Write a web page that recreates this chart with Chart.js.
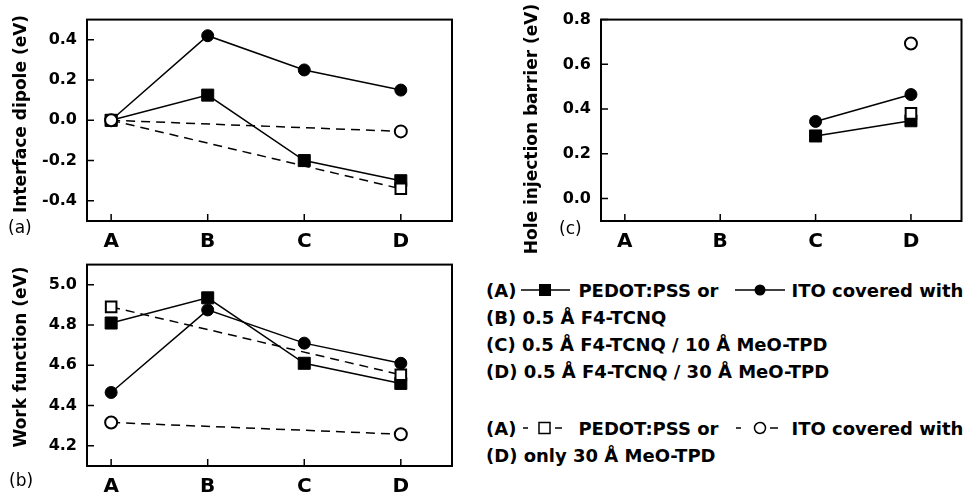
<!DOCTYPE html>
<html>
<head>
<meta charset="utf-8">
<script src="https://cdn.jsdelivr.net/npm/chart.js@4"></script>
<style>
  body { margin: 0; background: #fff; }
  #wrap { position: relative; width: 971px; height: 497px; overflow: hidden; font-family: 'DejaVu Sans', sans-serif; color: #000; }
  canvas { position: absolute; }
  .tag { position: absolute; font-size: 17px; line-height: 20px; }
  #legend { position: absolute; left: 486px; top: 277px; font-size: 18px; font-weight: bold; line-height: 27px; white-space: nowrap; }
  #legend svg { vertical-align: middle; position: relative; top: -2px; }
</style>
</head>
<body>
<div id="wrap">
  <canvas id="panelA" width="480" height="260" style="left:0;top:0"></canvas>
  <canvas id="panelB" width="480" height="252" style="left:0;top:245px"></canvas>
  <canvas id="panelC" width="491" height="260" style="left:480px;top:0"></canvas>
  <div class="tag" style="left:8px;top:217px">(a)</div>
  <div class="tag" style="left:9px;top:470px">(b)</div>
  <div class="tag" style="left:559px;top:218px">(c)</div>
  <div id="legend">
    <div>(A)<svg width="62" height="14"><line x1="5" y1="7" x2="54" y2="7" stroke="#000" stroke-width="1.5"/><rect x="23" y="1" width="12" height="12" fill="#000"/></svg>PEDOT:PSS or<svg width="73" height="14"><line x1="17" y1="7" x2="67" y2="7" stroke="#000" stroke-width="1.5"/><circle cx="42" cy="7" r="5.5" fill="#000"/></svg>ITO covered with</div>
    <div>(B) 0.5 Å F4-TCNQ</div>
    <div>(C) 0.5 Å F4-TCNQ / 10 Å MeO-TPD</div>
    <div>(D) 0.5 Å F4-TCNQ / 30 Å MeO-TPD</div>
    <div style="height:30px"></div>
    <div>(A)<svg width="62" height="14"><line x1="7" y1="7" x2="12" y2="7" stroke="#000" stroke-width="1.5"/><rect x="23" y="1.5" width="11" height="11" fill="#fff" stroke="#000" stroke-width="1.5"/><line x1="39" y1="7" x2="46" y2="7" stroke="#000" stroke-width="1.5"/></svg>PEDOT:PSS or<svg width="73" height="14"><line x1="18" y1="7" x2="23" y2="7" stroke="#000" stroke-width="1.5"/><circle cx="42" cy="7" r="5.5" fill="#fff" stroke="#000" stroke-width="1.5"/><line x1="52" y1="7" x2="60" y2="7" stroke="#000" stroke-width="1.5"/></svg>ITO covered with</div>
    <div>(D) only 30 Å MeO-TPD</div>
  </div>
</div>
<script>
// Sample categories
const categories = ['A', 'B', 'C', 'D'];

// (a) interface dipole (eV)
const dipoleSquare = [0, 0.125, -0.2, -0.30];
const dipoleCircle = [0, 0.42, 0.25, 0.15];
const dipoleOpenSquare = [0, null, null, -0.34];
const dipoleOpenCircle = [0, null, null, -0.055];
const dipoleTicks = [-0.4, -0.2, 0, 0.2, 0.4];

// (b) work function (eV)
const workSquare = [4.81, 4.935, 4.61, 4.51];
const workCircle = [4.465, 4.875, 4.71, 4.61];
const workOpenSquare = [4.89, null, null, 4.553];
const workOpenCircle = [4.316, null, null, 4.258];
const workTicks = [4.2, 4.4, 4.6, 4.8, 5.0];

// (c) hole injection barrier (eV)
const barrierSquare = [null, null, 0.28, 0.348];
const barrierCircle = [null, null, 0.345, 0.465];
const barrierOpenSquare = [null, null, null, 0.381];
const barrierOpenCircle = [null, null, null, 0.693];
const barrierTicks = [0, 0.2, 0.4, 0.6, 0.8];

const FONT = 'DejaVu Sans';

// Marker styles
const filledSquare = { pointStyle: 'rect', pointRadius: 8.5, pointBackgroundColor: '#000' };
const filledCircle = { pointStyle: 'circle', pointRadius: 6, pointBackgroundColor: '#000' };
const openSquare = { pointStyle: 'rect', pointRadius: 7.5, pointBackgroundColor: '#fff', pointBorderWidth: 2, borderDash: [9, 6] };
const openCircle = { pointStyle: 'circle', pointRadius: 6, pointBackgroundColor: '#fff', pointBorderWidth: 2, borderDash: [9, 6] };

function series(values, style) {
    return Object.assign({
        data: categories.map((c, i) => ({ x: i, y: values[i] })),
        spanGaps: true,
        borderColor: '#000',
        pointBorderColor: '#000',
        borderWidth: 1.5,
        pointBorderWidth: 1,
        clip: false
    }, style);
}

// Box frame, inward ticks and rotated y title
const frameTicks = {
    id: 'frameTicks',
    afterDraw(chart, args, opts) {
        const { ctx, chartArea: a, scales: { x, y } } = chart;
        ctx.save();
        ctx.strokeStyle = '#000';
        ctx.lineWidth = 2;
        ctx.strokeRect(a.left, a.top, a.right - a.left, a.bottom - a.top);
        ctx.lineWidth = 1.5;
        ctx.beginPath();
        y.ticks.forEach(t => {
            const py = y.getPixelForValue(t.value);
            ctx.moveTo(a.left, py);
            ctx.lineTo(a.left + 7, py);
        });
        x.ticks.forEach(t => {
            const px = x.getPixelForValue(t.value);
            ctx.moveTo(px, a.bottom);
            ctx.lineTo(px, a.bottom - 7);
        });
        ctx.stroke();
        ctx.translate(opts.titleX, opts.titleY);
        ctx.rotate(-Math.PI / 2);
        ctx.font = 'bold 17px "' + FONT + '"';
        ctx.textAlign = 'center';
        ctx.textBaseline = 'middle';
        ctx.fillStyle = '#000';
        ctx.fillText(opts.title, 0, 0);
        ctx.restore();
    }
};

function makePanel(id, cfg) {
    new Chart(document.getElementById(id), {
        type: 'line',
        data: { datasets: cfg.datasets },
        plugins: [frameTicks],
        options: {
            responsive: false,
            animation: false,
            events: [],
            layout: { padding: { top: 13, right: cfg.padRight, left: 0, bottom: 0 } },
            plugins: {
                legend: { display: false },
                tooltip: { enabled: false },
                frameTicks: { title: cfg.title, titleX: cfg.titleX, titleY: cfg.titleY }
            },
            scales: {
                x: {
                    type: 'linear',
                    min: -0.25,
                    max: 3.53,
                    grid: { display: false, drawTicks: false },
                    border: { display: false },
                    afterBuildTicks: s => { s.ticks = categories.map((c, i) => ({ value: i })); },
                    afterFit: s => { s.height = cfg.xHeight; },
                    ticks: {
                        autoSkip: false,
                        maxRotation: 0,
                        padding: 9,
                        color: '#000',
                        font: { family: FONT, size: 20, weight: 'bold' },
                        callback: v => categories[v]
                    }
                },
                y: {
                    min: cfg.yMin,
                    max: cfg.yMax,
                    grid: { display: false, drawTicks: false },
                    border: { display: false },
                    afterBuildTicks: s => { s.ticks = cfg.yTicks.map(v => ({ value: v })); },
                    afterFit: s => { s.width = cfg.yWidth; },
                    ticks: {
                        padding: 10,
                        color: '#000',
                        font: { family: FONT, size: 16, weight: 'bold' },
                        callback: v => v.toFixed(1)
                    }
                }
            }
        }
    });
}

makePanel('panelA', {
    title: 'Interface dipole (eV)', titleX: 22, titleY: 114,
    yMin: -0.5, yMax: 0.5, yTicks: dipoleTicks,
    yWidth: 87, xHeight: 39, padRight: 28,
    datasets: [
        series(dipoleOpenCircle, openCircle),
        series(dipoleOpenSquare, openSquare),
        series(dipoleSquare, filledSquare),
        series(dipoleCircle, filledCircle)
    ]
});

makePanel('panelB', {
    title: 'Work function (eV)', titleX: 22, titleY: 112,
    yMin: 4.1, yMax: 5.1, yTicks: workTicks,
    yWidth: 87, xHeight: 31, padRight: 28,
    datasets: [
        series(workOpenCircle, openCircle),
        series(workOpenSquare, openSquare),
        series(workSquare, filledSquare),
        series(workCircle, filledCircle)
    ]
});

makePanel('panelC', {
    title: 'Hole injection barrier (eV)', titleX: 53, titleY: 129,
    yMin: -0.1, yMax: 0.8, yTicks: barrierTicks,
    yWidth: 121, xHeight: 39, padRight: 7,
    datasets: [
        series(barrierOpenCircle, openCircle),
        series(barrierOpenSquare, openSquare),
        series(barrierSquare, filledSquare),
        series(barrierCircle, filledCircle)
    ]
});
</script>
</body>
</html>
